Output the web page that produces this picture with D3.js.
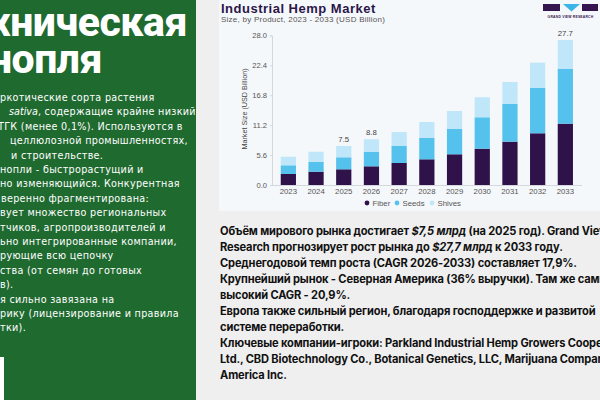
<!DOCTYPE html>
<html><head><meta charset="utf-8">
<script src="https://cdn.jsdelivr.net/npm/d3@7"></script>
<style>html,body{margin:0;padding:0;background:#efefef;overflow:hidden} svg{display:block}</style>
</head><body>
<svg id="c" width="600" height="400"></svg>
<script>
// ---- data ----
const years = ["2023","2024","2025","2026","2027","2028","2029","2030","2031","2032","2033"];
const fiber = [2.06,2.49,2.94,3.50,4.12,4.81,5.75,6.80,8.11,9.68,11.48];
const seeds = [1.63,1.87,2.25,2.73,3.24,4.04,4.79,5.88,7.06,8.54,10.30];
const shives = [1.61,1.87,2.12,2.32,2.57,2.94,3.31,3.75,4.12,4.68,5.37];
const totalLabels = ["","","7.5","8.8","","","","","","","27.7"];
const yTicks = [0,5.6,11.2,16.8,22.4,28.0];
const seriesNames = ["Fiber","Seeds","Shives"];
const seriesColors = ["#30124a","#55c2ee","#bfe7f9"];

const titleLines = ["Техническая","конопля"];
const leftLines = [
  "ркотические сорта растения",
  ["sativa", ", содержащие крайне низкий"],
  "ТГК (менее 0,1%). Используются в",
  "целлюлозной промышленностях,",
  "и строительстве.",
  "нопли - быстрорастущий и",
  "но изменяющийся. Конкурентная",
  "веренно фрагментирована:",
  "вует множество региональных",
  "тчиков, агропроизводителей и",
  "ьно интегрированные компании,",
  "рующие всю цепочку",
  "ства (от семян до готовых",
  "в).",
  "я сильно завязана на",
  "рику (лицензирование и правила",
  "тки)."
];
const leftOffsets = [0,9,-2,10,11,0,0,1,0,0,0,0,0,0,0,0,0];

const bodyLines = [
  [["Объём мирового рынка достигает ",0],["$7,5 млрд",1],[" (на 2025 год). Grand View Research",0]],
  [["Research прогнозирует рост рынка до ",0],["$27,7 млрд",1],[" к 2033 году.",0]],
  [["Среднегодовой темп роста (CAGR 2026-2033) составляет 17,9%.",0]],
  [["Крупнейший рынок - Северная Америка (36% выручки). Там же самый",0]],
  [["высокий CAGR - 20,9%.",0]],
  [["Европа также сильный регион, благодаря господдержке и развитой",0]],
  [["системе переработки.",0]],
  [["Ключевые компании-игроки: Parkland Industrial Hemp Growers Cooperative",0]],
  [["Ltd., CBD Biotechnology Co., Botanical Genetics, LLC, Marijuana Company of",0]],
  [["America Inc.",0]]
];

const svg = d3.select("#c");
svg.append("defs").append("clipPath").attr("id","lp").append("rect").attr("x",0).attr("y",0).attr("width",195).attr("height",400);

// ---- backgrounds ----
svg.append("rect").attr("x",0).attr("y",0).attr("width",600).attr("height",400).attr("fill","#efefef");
svg.append("rect").attr("x",0).attr("y",0).attr("width",196).attr("height",400).attr("fill","#1f6a2f");
svg.append("rect").attr("x",0).attr("y",357).attr("width",4).attr("height",43).attr("fill","#ffffff");
svg.append("rect").attr("x",219).attr("y",0).attr("width",381).attr("height",211).attr("fill","#f5f8fb");

// ---- left panel ----
const leftG = svg.append("g").attr("clip-path","url(#lp)");
const tl = leftG.append("g").attr("fill","#ffffff").style("font-family","Roboto, 'Open Sans', sans-serif").style("font-weight",800).style("font-size","41px").style("letter-spacing","-0.5px");
tl.append("text").attr("x",187).attr("y",36).attr("text-anchor","end").text(titleLines[0]);
tl.append("text").attr("x",102).attr("y",73).attr("text-anchor","end").text(titleLines[1]);

const lg = leftG.append("g").attr("fill","#ffffff").style("font-family","'DejaVu Sans', sans-serif").style("font-size","9.6px").style("letter-spacing","0.32px");
leftLines.forEach((l,i)=>{
  const t = lg.append("text").attr("x",leftOffsets[i]).attr("y",101 + i*14.4);
  if (Array.isArray(l)) {
    t.append("tspan").style("font-style","italic").style("letter-spacing","0px").text(l[0]);
    t.append("tspan").text(l[1]);
  } else t.text(l);
});

// ---- chart ----
const x = d3.scaleBand().domain(years).range([274.5,579.2]).paddingInner(0.45).paddingOuter(0.225);
const y = d3.scaleLinear().domain([0,28]).range([185,35.4]);
const table = years.map((yr,i)=>({year:yr, Fiber:fiber[i], Seeds:seeds[i], Shives:shives[i], label: totalLabels[i]}));
const stacked = d3.stack().keys(seriesNames)(table);
const color = d3.scaleOrdinal().domain(seriesNames).range(seriesColors);

const chartFont = "'Liberation Sans', Arial, sans-serif";

// title
svg.append("text").attr("x",221).attr("y",12.5).attr("fill","#2a1748").style("font-family",chartFont).style("font-weight",700).style("font-size","13px").style("letter-spacing","0.5px").text("Industrial Hemp Market");
svg.append("text").attr("x",221).attr("y",22).attr("fill","#555").style("font-family",chartFont).style("font-size","8px").style("letter-spacing","0.25px").text("Size, by Product, 2023 - 2033 (USD Billion)");

// logo
const logo = svg.append("g");
logo.append("rect").attr("x",543).attr("y",4).attr("width",17).attr("height",7).attr("fill","#35154f");
logo.append("path").attr("d","M563,4 L580,4 L571.5,11.5 Z").attr("fill","#3bb4e8");
logo.append("rect").attr("x",582).attr("y",4).attr("width",16).attr("height",7).attr("fill","#35154f");
logo.append("text").attr("x",570.5).attr("y",18).attr("text-anchor","middle").attr("fill","#35154f").style("font-family",chartFont).style("font-weight",700).style("font-size","3.4px").style("letter-spacing","0.2px").text("GRAND VIEW RESEARCH");

// y axis
const ya = svg.append("g").attr("transform","translate(272,0)")
  .call(d3.axisLeft(y).tickValues(yTicks).tickFormat(d3.format(".1f")).tickSize(2).tickPadding(3));
ya.select(".domain").attr("stroke","#d4d8dc");
ya.selectAll(".tick line").attr("stroke","#d4d8dc");
ya.selectAll("text").attr("fill","#555").style("font-family",chartFont).style("font-size","7.6px");

svg.append("text").attr("transform","translate(247,109) rotate(-90)").attr("text-anchor","middle").attr("fill","#444").style("font-family",chartFont).style("font-size","7.2px").text("Market Size (USD Billion)");

// bars
svg.append("g").selectAll("g").data(stacked).join("g").attr("fill",d=>color(d.key))
  .selectAll("rect").data(d=>d).join("rect")
  .attr("x",d=>x(d.data.year)).attr("width",x.bandwidth())
  .attr("y",d=>y(d[1])).attr("height",d=>y(d[0])-y(d[1]));

// total labels
const topLayer = stacked[stacked.length-1];
svg.append("g").selectAll("text").data(topLayer.filter(d=>d.data.label)).join("text")
  .attr("x",d=>x(d.data.year)+x.bandwidth()/2).attr("y",d=>y(d[1])-4)
  .attr("text-anchor","middle").attr("fill","#444").style("font-family",chartFont).style("font-size","7.8px")
  .text(d=>d.data.label);

// x axis
const xa = svg.append("g").attr("transform","translate(0,185)").call(d3.axisBottom(x).tickSize(0).tickPadding(3.5));
xa.select(".domain").remove();
xa.selectAll("text").attr("fill","#555").style("font-family",chartFont).style("font-size","7.8px");
svg.append("line").attr("x1",272).attr("x2",582).attr("y1",185.5).attr("y2",185.5).attr("stroke","#d4d8dc");

// legend
const legX = [367,397,432];
const leg = svg.append("g").selectAll("g").data(seriesNames).join("g").attr("transform",(d,i)=>`translate(${legX[i]},203)`);
leg.append("circle").attr("r",2.4).attr("fill",d=>color(d));
leg.append("text").attr("x",5.5).attr("y",2.8).attr("fill","#555").style("font-family",chartFont).style("font-size","7.8px").text(d=>d);

// ---- body text ----
const bg = svg.append("g").attr("fill","#111").style("font-family","Inter, 'Noto Sans', sans-serif").style("font-weight",700).style("font-size","11.1px").style("letter-spacing","-0.15px");
bodyLines.forEach((parts,i)=>{
  const t = bg.append("text").attr("x",220).attr("y",234.5 + i*16);
  parts.forEach(p=>{
    const s = t.append("tspan").text(p[0]);
    if (p[1]) s.style("font-style","italic");
  });
});
</script>
</body></html>
